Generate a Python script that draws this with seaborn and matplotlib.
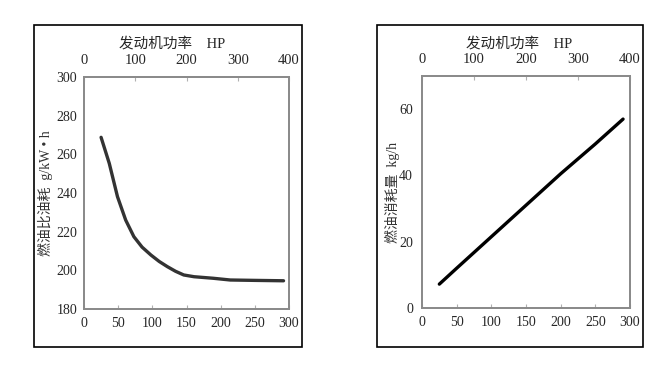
import matplotlib
matplotlib.use("Agg")
import matplotlib.pyplot as plt
from matplotlib.patches import Rectangle
import seaborn as sns
import numpy as np

# ---- data ----
hp_sfc = [25, 37, 49, 61, 73, 85, 98, 110, 122, 134, 146, 161, 189, 214, 250, 292]
sfc = [268.8, 255.3, 238.1, 226.0, 217.4, 212.0, 207.9, 204.6, 201.9, 199.5, 197.6, 196.7, 195.9, 195.0, 194.8, 194.6]

hp_fuel = [25, 50, 100, 150, 200, 250, 290]
fuel = [7.2, 12.0, 21.5, 31.0, 40.5, 49.5, 57.0]

bottom_ticks = [0, 50, 100, 150, 200, 250, 300]
top_ticks = [0, 100, 200, 300, 400]
sfc_ticks = [180, 200, 220, 240, 260, 280, 300]
fuel_ticks = [0, 20, 40, 60]

top_title = "发动机功率    HP"
ylabel_left = "燃油比油耗  g/kW • h"
ylabel_right = "燃油消耗量  kg/h"

sns.set_style("white")
plt.rcParams['font.family'] = ['Liberation Serif', 'Noto Sans CJK SC', 'DejaVu Sans']
plt.rcParams['font.size'] = 10

W, H = 671, 366
fig = plt.figure(figsize=(W / 100, H / 100), dpi=100)

def fx(px):
    return px / W

def fy(py):
    return 1 - py / H

spine_col = "#8a8a8a"

def style_axes(ax, ax2, ypad):
    for a in (ax, ax2):
        for s in a.spines.values():
            s.set_color(spine_col)
            s.set_linewidth(1.3)
    ax.tick_params(axis='x', direction='in', length=3, width=0.8, color="#b0b0b0",
                   labelsize=10, pad=5.5)
    ax.tick_params(axis='y', direction='in', length=3, width=0.8, color="#b0b0b0",
                   labelsize=10, pad=ypad)
    ax2.tick_params(axis='x', direction='in', length=3, width=0.8, color="#b0b0b0",
                    labelsize=10.5, pad=7)

# boxes
for x0, x1 in [(34, 302), (377, 643)]:
    fig.add_artist(Rectangle((fx(x0), fy(347)), fx(x1) - fx(x0), fy(25) - fy(347),
                             transform=fig.transFigure, fill=False, edgecolor='black',
                             linewidth=1.2))

# ---- left panel ----
axL = fig.add_axes([fx(84), fy(309), fx(289) - fx(84), fy(77) - fy(309)])
sns.lineplot(x=hp_sfc, y=sfc, ax=axL, color="#333333", linewidth=2.4)
axL.set_xlim(0, 300)
axL.set_ylim(180, 300)
axL.set_xticks(bottom_ticks)
axL.set_yticks(sfc_ticks)
axL.set_ylabel(ylabel_left, fontsize=10, color="#333333", va='center')
axL.yaxis.set_label_coords((45 - 84) / 205, 0.5)
axLt = axL.twiny()
axLt.set_xlim(0, 400)
axLt.set_xticks(top_ticks)
style_axes(axL, axLt, 5)
fig.text(fx(172), fy(44), top_title, ha='center', va='center', fontsize=10.5)

# ---- right panel ----
axR = fig.add_axes([fx(422), fy(308), fx(630) - fx(422), fy(76) - fy(308)])
sns.lineplot(x=hp_fuel, y=fuel, ax=axR, color="black", linewidth=2.4)
axR.set_xlim(0, 300)
axR.set_ylim(0, 70)
axR.set_xticks(bottom_ticks)
axR.set_yticks(fuel_ticks)
axR.set_ylabel(ylabel_right, fontsize=10, color="#333333", va='center')
axR.yaxis.set_label_coords((392 - 422) / 208, 0.5)
axRt = axR.twiny()
axRt.set_xlim(0, 400)
axRt.set_xticks(top_ticks)
style_axes(axR, axRt, 6.5)
fig.text(fx(519), fy(44), top_title, ha='center', va='center', fontsize=10.5)

fig.savefig("out.png", dpi=100)
